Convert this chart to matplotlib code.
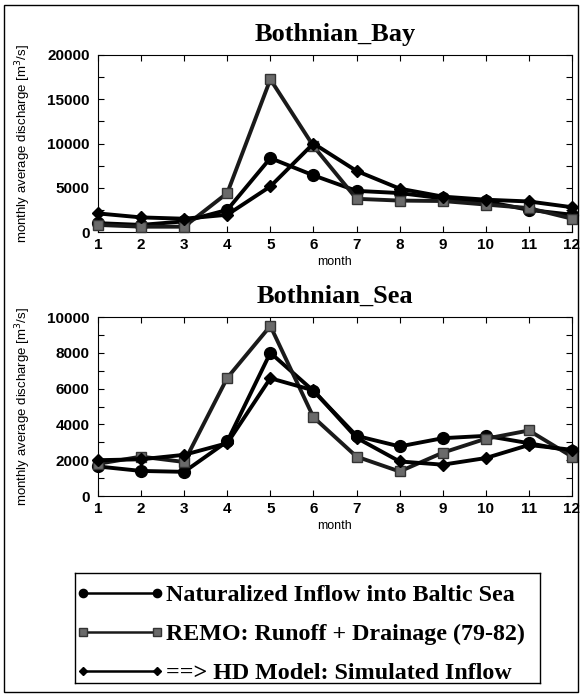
import matplotlib
matplotlib.use("Agg")
import matplotlib.pyplot as plt
from matplotlib.patches import Rectangle
from matplotlib.ticker import MultipleLocator
from matplotlib.lines import Line2D

months = list(range(1, 13))

bay_natural = [1000, 800, 1200, 2500, 8350, 6400, 4650, 4400, 3800, 3450, 2500, 1950]
bay_remo = [800, 600, 600, 4400, 17250, 9700, 3750, 3550, 3500, 3100, 2700, 1500]
bay_hd = [2100, 1650, 1500, 1950, 5150, 10000, 6900, 4900, 4000, 3650, 3450, 2800]

sea_natural = [1650, 1400, 1350, 3050, 8000, 5870, 3360, 2770, 3230, 3360, 2950, 2500]
sea_remo = [1800, 2200, 1900, 6600, 9500, 4400, 2200, 1370, 2420, 3200, 3660, 2200]
sea_hd = [2000, 2050, 2300, 2950, 6580, 5900, 3250, 1930, 1750, 2120, 2850, 2580]

titles = ["Bothnian_Bay", "Bothnian_Sea"]
legend_labels = ["Naturalized Inflow into Baltic Sea",
                 "REMO: Runoff + Drainage (79-82)",
                 "==> HD Model: Simulated Inflow"]

W, H = 583, 699
fig = plt.figure(figsize=(W / 100, H / 100), dpi=100)

serif = ["Liberation Serif", "DejaVu Serif"]
sans = ["Liberation Sans", "DejaVu Sans"]

# outer frame
fig.patches.append(Rectangle((4 / W, 1 - 692 / H), 574 / W, 687 / H, transform=fig.transFigure,
                             fill=False, edgecolor="black", linewidth=1.0))

styles = [dict(marker="o", color="black", mfc="black", mec="black", ms=8.5),
          dict(marker="s", color="#1a1a1a", mfc="#6a6a6a", mec="#333333", ms=7.5),
          dict(marker="D", color="black", mfc="black", mec="black", ms=6.5)]

panels = [
    (titles[0], [bay_natural, bay_remo, bay_hd], (55, 232), 20000, 5000, 2500),
    (titles[1], [sea_natural, sea_remo, sea_hd], (317, 496), 10000, 2000, 1000),
]
for title, series, (top, bot), ymax, major, minor in panels:
    ax = fig.add_axes([98 / W, 1 - bot / H, (572 - 98) / W, (bot - top) / H])
    for s, st in zip(series, styles):
        ax.plot(months, s, linewidth=2.8, zorder=3, clip_on=False, **st)
    ax.set_xlim(1, 12)
    ax.set_ylim(0, ymax)
    ax.set_xticks(months)
    ax.yaxis.set_major_locator(MultipleLocator(major))
    ax.yaxis.set_minor_locator(MultipleLocator(minor))
    ax.tick_params(direction="in", top=True, right=True, which="both", length=4, width=0.8,
                   labelsize=11)
    for lbl in ax.get_xticklabels() + ax.get_yticklabels():
        lbl.set_family(sans)
        lbl.set_fontweight("bold")
    ax.tick_params(axis="x", pad=4)
    ax.tick_params(axis="y", pad=6)
    ax.set_title(title, family=serif, fontweight="bold", fontsize=19, pad=10)
    ax.set_xlabel("month", family=sans, fontsize=9, labelpad=3)
    ax.set_ylabel("monthly average discharge [m$^3$/s]", family=sans, fontsize=9.5, labelpad=10)
    for sp in ax.spines.values():
        sp.set_linewidth(0.8)

# legend box (drawn by hand)
lx0, lx1, ly0, ly1 = 75, 540, 573, 683
lax = fig.add_axes([lx0 / W, 1 - ly1 / H, (lx1 - lx0) / W, (ly1 - ly0) / H])
lax.set_xlim(lx0, lx1)
lax.set_ylim(ly1, ly0)
lax.set_xticks([])
lax.set_yticks([])
for sp in lax.spines.values():
    sp.set_linewidth(1.0)
rows = [593, 632, 671]
for yrow, st, lab in zip(rows, styles, legend_labels):
    st2 = dict(st)
    st2["ms"] = st["ms"] * 0.7
    lax.add_line(Line2D([83, 157], [yrow, yrow], linewidth=1.8, **st2))
    lax.text(166, yrow, lab, family=serif, fontweight="bold", fontsize=17.3,
             va="center_baseline", ha="left")

fig.savefig("out.png", dpi=100)
